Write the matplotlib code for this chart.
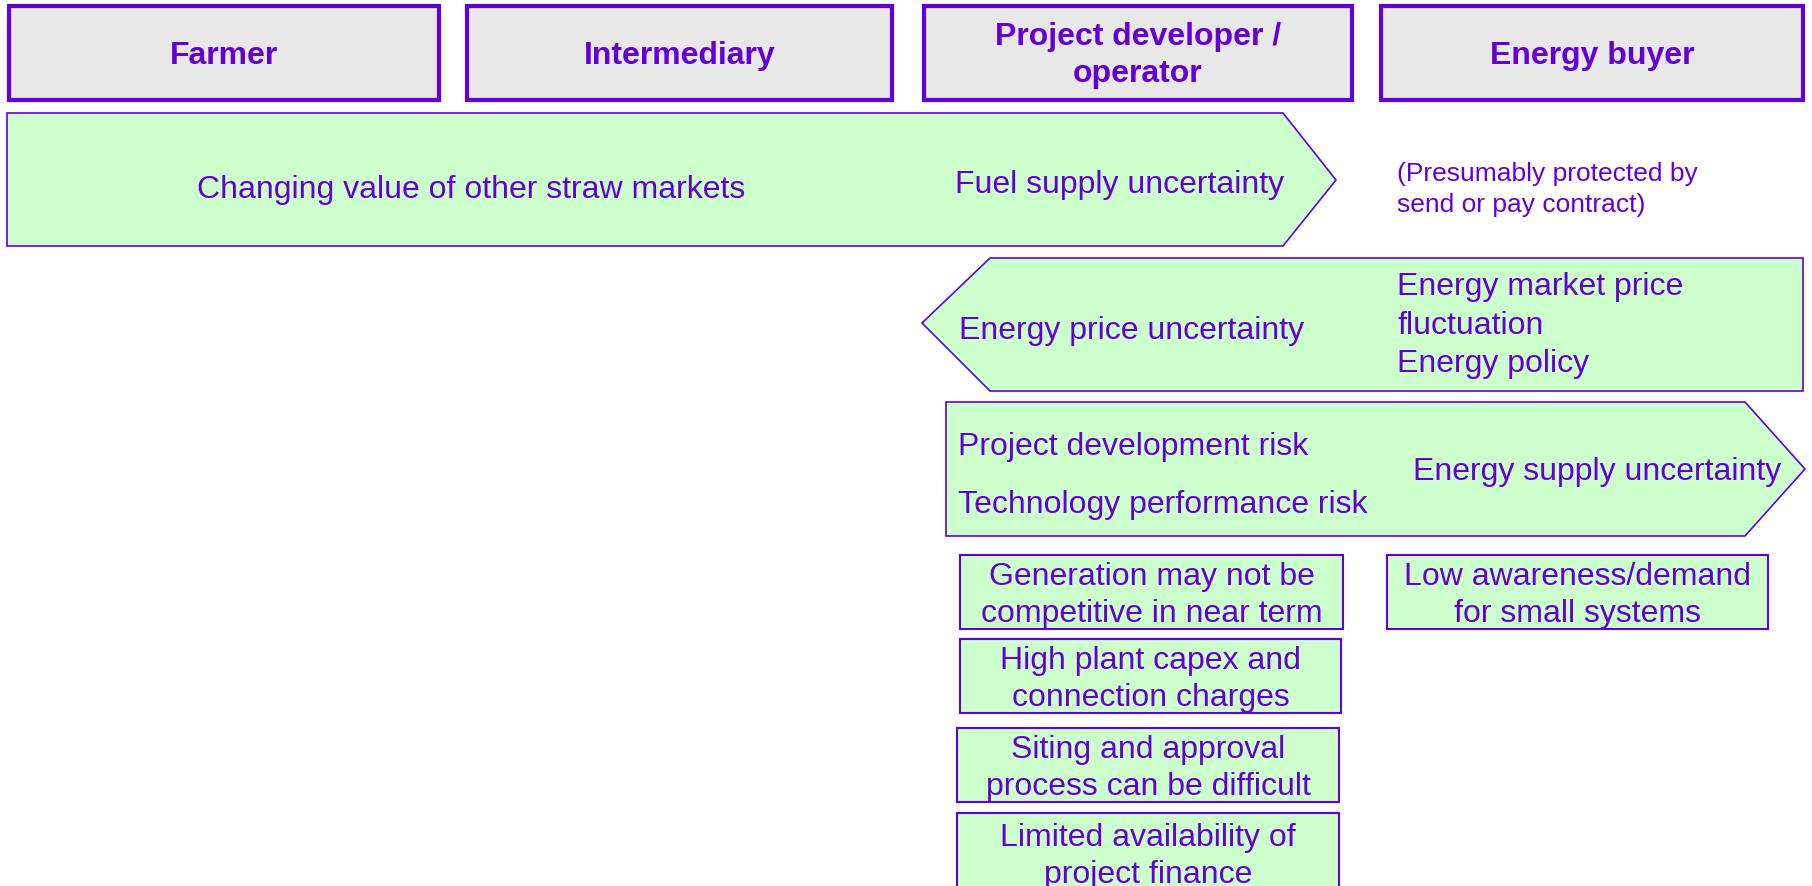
import matplotlib
matplotlib.use("Agg")
import matplotlib.pyplot as plt
from matplotlib.patches import Polygon

# ---- content ----
actors = ["Farmer", "Intermediary", "Project developer /\noperator", "Energy buyer"]
arrow1_texts = ["Changing value of other straw markets", "Fuel supply uncertainty"]
note_text = "(Presumably protected by\nsend or pay contract)"
arrow2_texts = ["Energy price uncertainty", "Energy market price\nfluctuation\nEnergy policy"]
arrow3_left = ["Project development risk", "Technology performance risk"]
arrow3_right = "Energy supply uncertainty"
dev_boxes = ["Generation may not be\ncompetitive in near term",
             "High plant capex and\nconnection charges",
             "Siting and approval\nprocess can be difficult",
             "Limited availability of\nproject finance"]
buyer_box = "Low awareness/demand\nfor small systems"

PURPLE = "#6000DA"
TXT = "#6400D4"
GREEN = "#CCFFCC"
GREY = "#E8E8E8"
FONT = "Liberation Sans"
FS = 23
DY = 3.5  # baseline correction

plt.rcParams['font.family'] = [FONT, 'DejaVu Sans']

fig = plt.figure(figsize=(18.12, 8.86), dpi=100)
ax = fig.add_axes([0, 0, 1, 1])
ax.set_xlim(0, 1812)
ax.set_ylim(886, 0)
ax.axis('off')

def poly(pts, fc, lw):
    ax.add_patch(Polygon(pts, closed=True, facecolor=fc, edgecolor=PURPLE, linewidth=lw))

def txt(x, y, s, ha='center', fs=FS, ls=1.33, **kw):
    ax.text(x, y + DY, s, ha=ha, va='center', fontsize=fs, color=TXT, linespacing=ls, **kw)

# header boxes
hx = [(9, 439), (467, 892), (924, 1352), (1381, 1803)]
for (x0, x1), lab in zip(hx, actors):
    poly([(x0, 6), (x1, 6), (x1, 100), (x0, 100)], GREY, 3.0)
    txt((x0 + x1) / 2, 52, lab, fontweight='bold', ls=1.3)

# arrow 1 (right pointing)
poly([(7, 113), (1283, 113), (1336, 180), (1283, 246), (7, 246)], GREEN, 1.2)
txt(471, 186, arrow1_texts[0])
txt(1120, 181, arrow1_texts[1])
txt(1397, 186, note_text, ha='left', fs=19, ls=1.38)

# arrow 2 (left pointing)
poly([(922, 323), (990, 258), (1803, 258), (1803, 391), (990, 391)], GREEN, 1.2)
txt(1132, 327, arrow2_texts[0])
txt(1397, 322, arrow2_texts[1], ha='left', ls=1.36)

# arrow 3 (right pointing)
poly([(946, 402), (1745, 402), (1805, 469), (1745, 536), (946, 536)], GREEN, 1.2)
txt(958, 443, arrow3_left[0], ha='left')
txt(958, 502, arrow3_left[1], ha='left')
txt(1597, 468, arrow3_right)

# developer boxes
boxes = [(960, 1343, 555, 629), (960, 1341, 639, 713), (957, 1339, 728, 802), (957, 1339, 813, 893)]
for (x0, x1, y0, y1), lab in zip(boxes, dev_boxes):
    poly([(x0, y0), (x1, y0), (x1, y1), (x0, y1)], GREEN, 1.5)
    cy = (y0 + y1) / 2 if y1 < 886 else 853
    txt((x0 + x1) / 2, cy, lab, ls=1.3)

# buyer box
x0, x1, y0, y1 = 1387, 1768, 555, 629
poly([(x0, y0), (x1, y0), (x1, y1), (x0, y1)], GREEN, 1.5)
txt((x0 + x1) / 2, (y0 + y1) / 2, buyer_box, ls=1.3)

fig.savefig("out.png", dpi=100)
